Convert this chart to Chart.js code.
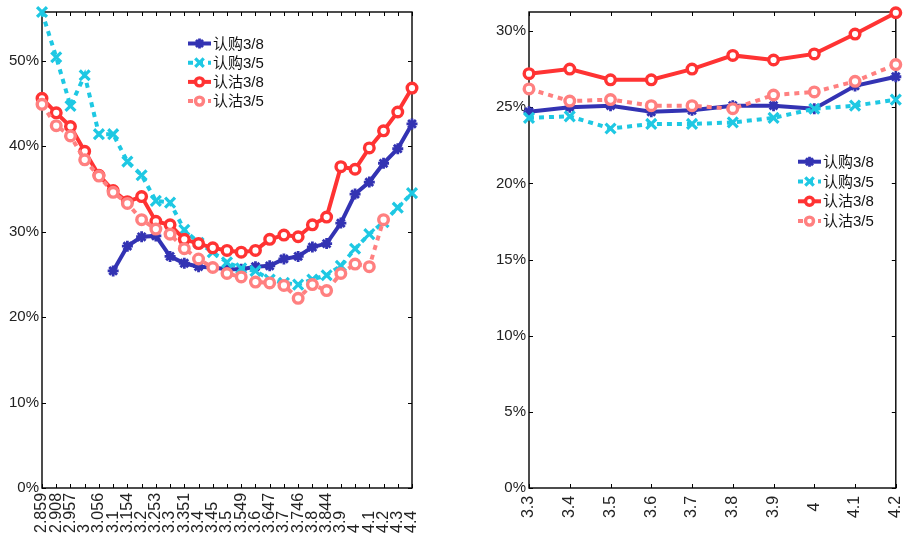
<!DOCTYPE html>
<html><head><meta charset="utf-8">
<script src="https://cdn.jsdelivr.net/npm/chart.js@4/dist/chart.umd.min.js"></script>
<style>
html,body{margin:0;padding:0;background:#fff;}
#wrap{position:relative;width:906px;height:536px;overflow:hidden;background:#fff;}
.box{position:absolute;top:0;width:453px;height:536px;}
</style></head><body>
<div id="wrap">
<div class="box" style="left:0"><canvas id="c1"></canvas></div>
<div class="box" style="left:453px"><canvas id="c2"></canvas></div>
</div>
<script>
// ---- data ----
const leftCats = ['2.859','2.908','2.957','3','3.056','3.1','3.154','3.2','3.253','3.3','3.351','3.4','3.45','3.5','3.549','3.6','3.647','3.7','3.746','3.8','3.844','3.9','4','4.1','4.2','4.3','4.4'];
const leftCall38 = [null,null,null,null,null,25.4,28.3,29.4,29.5,27.1,26.3,25.9,25.8,25.6,25.6,25.9,26.0,26.8,27.1,28.2,28.6,31.0,34.4,35.8,38.0,39.7,42.6];
const leftCall35 = [55.7,50.4,44.7,48.3,41.4,41.4,38.2,36.6,33.6,33.4,30.2,28.7,27.6,26.4,25.7,25.4,24.4,24.0,23.8,24.4,24.9,26.0,28.0,29.7,31.1,32.8,34.5];
const leftPut38 = [45.6,43.9,42.3,39.4,36.6,34.8,33.5,34.1,31.2,30.8,29.1,28.6,28.1,27.8,27.6,27.8,29.1,29.6,29.4,30.8,31.7,37.6,37.3,39.8,41.8,44.0,46.8];
const leftPut35 = [44.9,42.4,41.2,38.4,36.5,34.6,33.3,31.4,30.3,29.7,28.0,26.8,25.8,25.1,24.7,24.1,24.0,23.7,22.2,23.8,23.1,25.1,26.2,25.9,31.4,null,null];

const rightCats = ['3.3','3.4','3.5','3.6','3.7','3.8','3.9','4','4.1','4.2'];
const rightCall38 = [24.7,25.0,25.1,24.7,24.8,25.1,25.1,24.9,26.4,27.0];
const rightCall35 = [24.3,24.4,23.6,23.9,23.9,24.0,24.3,24.9,25.1,25.5];
const rightPut38 = [27.2,27.5,26.8,26.8,27.5,28.4,28.1,28.5,29.8,31.2];
const rightPut35 = [26.2,25.4,25.5,25.1,25.1,24.9,25.8,26.0,26.7,27.8];

const seriesNames = ['认购3/8','认购3/5','认沽3/8','认沽3/5'];
const leftTicks = {max:55.7, step:10};
const rightTicks = {max:31.25, step:5};

// ---- styles ----
const FONT = '"Liberation Sans", Arial, "Noto Sans CJK SC", sans-serif';
const styles = [
  {color:'#3333b3', dash:[], pointStyle:'star', radius:5.5, bw:2.8, lw:4, bg:'#3333b3', lr:5, order:3},
  {color:'#1ec8e3', dash:[5,5], pointStyle:'crossRot', radius:7, bw:3.2, lw:4, bg:'#1ec8e3', lr:6, order:2},
  {color:'#ff3333', dash:[], pointStyle:'circle', radius:4.8, bw:3.4, lw:4, bg:'#ffffff', lr:4, order:1},
  {color:'#ff8080', dash:[5,5], pointStyle:'circle', radius:4.8, bw:3.4, lw:4, bg:'#ffffff', lr:4, order:0}
];

const framePlugin = {
  id: 'frame',
  beforeDatasetsDraw(chart, args, o) {
    const {ctx, chartArea: a, scales: {x, y}} = chart;
    ctx.save();
    ctx.strokeStyle = '#000';
    ctx.lineWidth = 1.4;
    ctx.setLineDash([]);
    ctx.strokeRect(a.left, a.top, a.right - a.left, a.bottom - a.top);
    ctx.lineWidth = 1;
    const L = o.tickLen;
    ctx.beginPath();
    x.ticks.forEach((t, i) => {
      const px = Math.round(x.getPixelForTick(i)) + 0.5;
      ctx.moveTo(px, a.bottom); ctx.lineTo(px, a.bottom - L);
      ctx.moveTo(px, a.top); ctx.lineTo(px, a.top + L);
    });
    y.ticks.forEach((t, i) => {
      const py = Math.round(y.getPixelForTick(i)) + 0.5;
      ctx.moveTo(a.left, py); ctx.lineTo(a.left + L, py);
      ctx.moveTo(a.right, py); ctx.lineTo(a.right - L, py);
    });
    ctx.stroke();
    ctx.restore();
  },
  afterDraw(chart, args, o) {
    const {ctx, scales: {x}} = chart;
    ctx.save();
    ctx.font = o.xFont;
    ctx.fillStyle = '#222';
    x.ticks.forEach((t, i) => {
      const px = x.getPixelForTick(i);
      ctx.save();
      ctx.translate(px, o.xBase);
      ctx.rotate(-Math.PI / 2);
      ctx.textAlign = o.xAlign;
      ctx.textBaseline = 'middle';
      ctx.fillText(x.getLabelForValue(t.value), 0, 0);
      ctx.restore();
    });
    // legend
    const lg = o.legend;
    chart.data.datasets.forEach((ds, i) => {
      const s = styles[i];
      const yy = lg.y + i * lg.dy;
      ctx.save();
      ctx.strokeStyle = s.color;
      ctx.lineWidth = s.lw;
      ctx.setLineDash(s.dash);
      ctx.beginPath();
      ctx.moveTo(lg.x1, yy); ctx.lineTo(lg.x2, yy);
      ctx.stroke();
      ctx.setLineDash([]);
      ctx.lineWidth = s.bw;
      ctx.fillStyle = s.bg;
      Chart.helpers.drawPoint(ctx, {pointStyle: s.pointStyle, radius: s.lr, borderWidth: s.bw, rotation: 0}, (lg.x1 + lg.x2) / 2, yy);
      ctx.restore();
      ctx.font = o.legendFont;
      ctx.fillStyle = '#111';
      ctx.textAlign = 'left';
      ctx.textBaseline = 'middle';
      ctx.fillText(ds.label, lg.tx, yy + 1);
    });
    ctx.restore();
  }
};

function makeChart(id, cats, data, tk, yWidth, padRight, frameOpts) {
  const datasets = data.map((d, i) => {
    const s = styles[i];
    return {
      label: seriesNames[i], data: d,
      borderColor: s.color, borderWidth: s.lw, borderDash: s.dash,
      pointStyle: s.pointStyle, pointRadius: s.radius, pointBorderWidth: s.bw,
      pointBackgroundColor: s.bg, pointBorderColor: s.color,
      pointHoverRadius: s.radius, tension: 0, fill: false, clip: false,
      spanGaps: false, order: s.order
    };
  });
  return new Chart(document.getElementById(id), {
    type: 'line',
    data: {labels: cats, datasets},
    plugins: [framePlugin],
    options: {
      responsive: true, maintainAspectRatio: false, animation: false,
      devicePixelRatio: 1,
      layout: {padding: {left: 0, right: padRight, top: 12, bottom: 0}},
      plugins: {legend: {display: false}, tooltip: {enabled: false}, frame: frameOpts},
      scales: {
        x: {
          type: 'category', offset: false,
          grid: {display: false, drawTicks: false}, border: {display: false},
          ticks: {display: false, autoSkip: false},
          afterFit: s => { s.height = 48; }
        },
        y: {
          min: 0, max: tk.max,
          grid: {display: false, drawTicks: false}, border: {display: false},
          ticks: {stepSize: tk.step, includeBounds: false, padding: 3,
                  color: '#222', font: {family: FONT, size: 15},
                  callback: v => v + '%'},
          afterFit: s => { s.width = yWidth; }
        }
      }
    }
  });
}

makeChart('c1', leftCats, [leftCall38, leftCall35, leftPut38, leftPut35], leftTicks, 42, 41, {
  tickLen: 4, xBase: 533, xAlign: 'left', xFont: '16px ' + FONT,
  legendFont: '15px ' + FONT,
  legend: {x1: 188, x2: 211, tx: 213, y: 43.5, dy: 19.2}
});
makeChart('c2', rightCats, [rightCall38, rightCall35, rightPut38, rightPut35], rightTicks, 76, 7, {
  tickLen: 4, xBase: 507, xAlign: 'center', xFont: '16px ' + FONT,
  legendFont: '15px ' + FONT,
  legend: {x1: 345, x2: 368, tx: 370, y: 161.7, dy: 19.8}
});
</script>
</body></html>
